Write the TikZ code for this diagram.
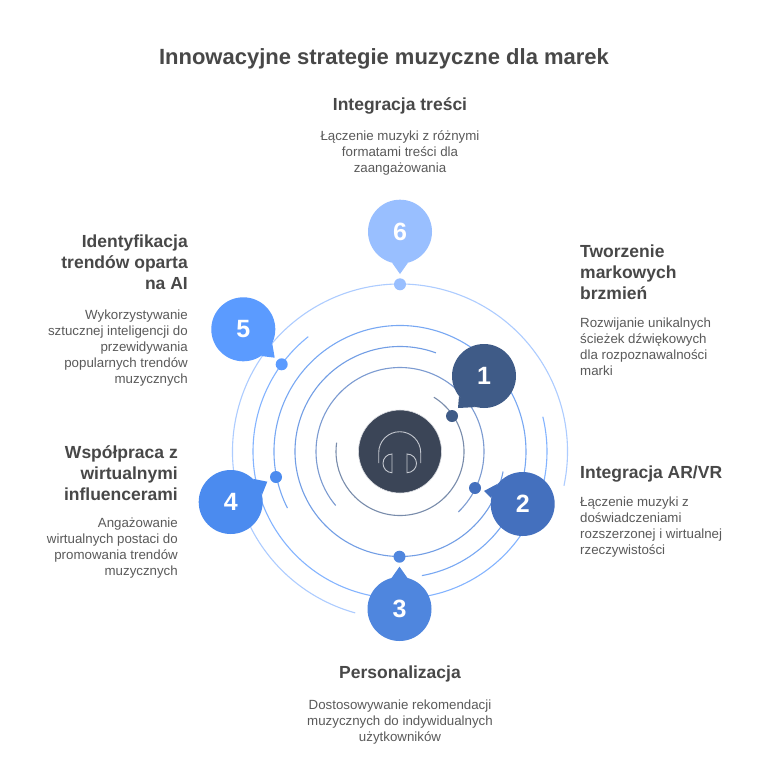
\documentclass[tikz,border=0pt]{standalone}
\usepackage{fontspec}
\setmainfont{Liberation Sans}
\usetikzlibrary{positioning}

\definecolor{inkhead}{HTML}{484848}
\definecolor{inkbody}{HTML}{5A5A5A}
\definecolor{hubfill}{HTML}{3B4557}
\definecolor{hubline}{HTML}{C4C8D0}
\definecolor{cone}{HTML}{3F5B87}
\definecolor{ctwo}{HTML}{4470BE}
\definecolor{cthree}{HTML}{4F86DE}
\definecolor{cfour}{HTML}{4B8BEF}
\definecolor{cfive}{HTML}{5B9BFF}
\definecolor{csix}{HTML}{99BFFF}

\tikzset{
  main node/.style={circle,minimum size=64pt,inner sep=0pt,text=white,font=\fontsize{25}{25}\selectfont\bfseries},
  dot node/.style={circle,minimum size=12pt,inner sep=0pt},
  ring/.style={line width=1.1pt},
  head/.style={text=inkhead,font=\fontsize{17.5}{21}\selectfont\bfseries,inner sep=0pt},
  body/.style={text=inkbody,font=\fontsize{13.3}{16}\selectfont,inner sep=0pt},
  icon/.style={draw=hubline,line width=0.9pt}
}

\begin{document}
\begin{tikzpicture}[x=1pt,y=1pt,node distance=13pt]
  \useasboundingbox (0,0) rectangle (768,-779);
  \fill[white] (0,0) rectangle (768,-779);
  \coordinate (c) at (400,-451.5);

  % rings
  \draw[ring,draw=cone!70] ([shift={(58:64)}]c) arc[start angle=58,end angle=-188,radius=64];
  \draw[ring,draw=ctwo!70] ([shift={(-46:84)}]c) arc[start angle=-46,end angle=220,radius=84];
  \draw[ring,draw=cthree!80] ([shift={(70:105)}]c) arc[start angle=70,end angle=349,radius=105];
  \draw[ring,draw=cfour!75] ([shift={(206.7:126)}]c) arc[start angle=206.7,end angle=-80,radius=126];
  \draw[ring,draw=cfive!75] ([shift={(128.6:147)}]c) arc[start angle=128.6,end angle=373.7,radius=147];
  \draw[ring,draw=csix!80] ([shift={(254.5:167.5)}]c) arc[start angle=254.5,end angle=-11.8,radius=167.5];

  % centre
  \node[circle,fill=hubfill,draw=hubline!60,line width=0.6pt,minimum size=83pt,inner sep=0pt] (hub) at (c) {};
  \draw[icon] (378.7,-463) -- (378.7,-452.7) arc[start angle=180,end angle=0,radius=21] -- (420.7,-463);
  \draw[icon] (392,-454) arc[start angle=90,end angle=270,x radius=9,y radius=9.35] -- cycle;
  \draw[icon] (407,-454) arc[start angle=90,end angle=-90,x radius=9.5,y radius=9.35] -- cycle;

  % dots
  \node[dot node,fill=cone] (d1) at (452,-416) {};
  \node[dot node,fill=ctwo] (d2) at (475,-488) {};
  \node[dot node,fill=cthree] (d3) at (399.5,-556.7) {};
  \node[dot node,fill=cfour] (d4) at (276,-477) {};
  \node[dot node,fill=cfive] (d5) at (281.7,-364.3) {};
  \node[dot node,fill=csix] (d6) at (400,-284.3) {};

  % bubbles
  \node[main node,fill=cone] (1) at (484,-376) {1};
  \node[main node,fill=ctwo] (2) at (522.7,-504) {2};
  \node[main node,fill=cthree] (3) at (399.5,-609) {3};
  \node[main node,fill=cfour] (4) at (230.7,-502) {4};
  \node[main node,fill=cfive] (5) at (243.3,-329.3) {5};
  \node[main node,fill=csix] (6) at (400,-231.7) {6};
  \coordinate (p1) at (458,-408);
  \coordinate (p2) at (484,-491);
  \coordinate (p3) at (399.5,-566.7);
  \coordinate (p4) at (267.3,-481.7);
  \coordinate (p5) at (274.7,-357.7);
  \coordinate (p6) at (400,-274);
  \fill[cone] (1.219) -- (p1) -- (1.255) -- cycle;
  \fill[ctwo] (2.141) -- (p2) -- (2.169) -- cycle;
  \fill[cthree] (3.76) -- (p3) -- (3.104) -- cycle;
  \fill[cfour] (4.13) -- (p4) -- (4.46) -- cycle;
  \fill[cfive] (5.-56) -- (p5) -- (5.-26) -- cycle;
  \fill[csix] (6.256) -- (p6) -- (6.284) -- cycle;

  % texts
  \node[text=inkhead,font=\fontsize{22}{26}\selectfont\bfseries,inner sep=0pt] (title) at (384,-59) {Innowacyjne strategie muzyczne dla marek};

  \node[head,anchor=north west,align=left] (h1) at (580,-245) {Tworzenie\\markowych\\brzmień};
  \node[body,align=left,below=17pt of h1.south west,anchor=north west] (t1) {Rozwijanie unikalnych\\ścieżek dźwiękowych\\dla rozpoznawalności\\marki};

  \node[head,anchor=north west] (h2) at (580,-466) {Integracja AR/VR};
  \node[body,align=left,below=14pt of h2.south west,anchor=north west] (t2) {Łączenie muzyki z\\doświadczeniami\\rozszerzonej i wirtualnej\\rzeczywistości};

  \node[head] (h3) at (400,-674) {Personalizacja};
  \node[body,align=center,below=17pt of h3] (t3) {Dostosowywanie rekomendacji\\muzycznych do indywidualnych\\użytkowników};

  \node[head,anchor=north east,align=right] (h4) at (178,-445) {Współpraca z\\wirtualnymi\\influencerami};
  \node[body,align=right,below=17pt of h4.south east,anchor=north east] (t4) {Angażowanie\\wirtualnych postaci do\\promowania trendów\\muzycznych};

  \node[head,anchor=north east,align=right] (h5) at (188,-235) {Identyfikacja\\trendów oparta\\na AI};
  \node[body,align=right,below=19pt of h5.south east,anchor=north east] (t5) {Wykorzystywanie\\sztucznej inteligencji do\\przewidywania\\popularnych trendów\\muzycznych};

  \node[head] (h6) at (400,-106) {Integracja treści};
  \node[body,align=center,below=16pt of h6] (t6) {Łączenie muzyki z różnymi\\formatami treści dla\\zaangażowania};
\end{tikzpicture}
\end{document}
